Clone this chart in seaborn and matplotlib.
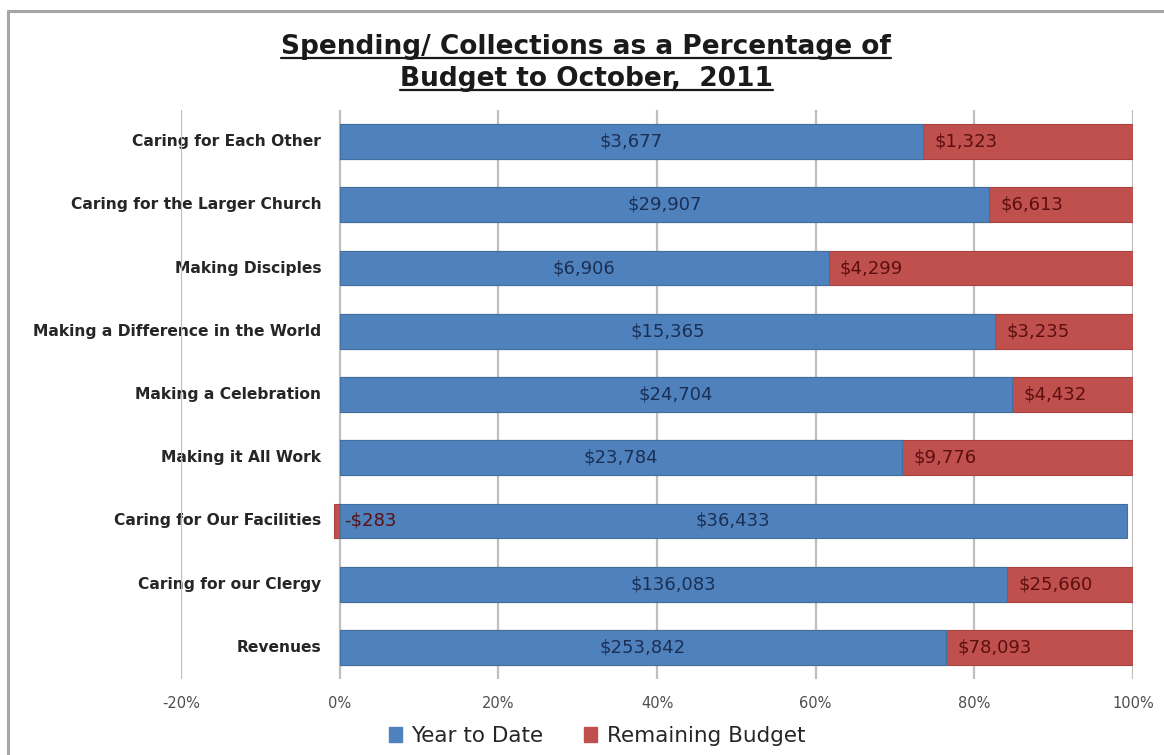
import numpy as np
import pandas as pd
import matplotlib
matplotlib.use("Agg")
import matplotlib.pyplot as plt
from matplotlib.lines import Line2D
from matplotlib.patches import Patch
import seaborn as sns

categories = [
    "Caring for Each Other",
    "Caring for the Larger Church",
    "Making Disciples",
    "Making a Difference in the World",
    "Making a Celebration",
    "Making it All Work",
    "Caring for Our Facilities",
    "Caring for our Clergy",
    "Revenues",
]
year_to_date = [3677, 29907, 6906, 15365, 24704, 23784, 36433, 136083, 253842]
remaining = [1323, 6613, 4299, 3235, 4432, 9776, -283, 25660, 78093]
x_ticks = [-0.2, 0.0, 0.2, 0.4, 0.6, 0.8, 1.0]
x_tick_labels = ["-20%", "0%", "20%", "40%", "60%", "80%", "100%"]
title_lines = ["Spending/ Collections as a Percentage of", "Budget to October,  2011"]
legend_labels = ["Year to Date", "Remaining Budget"]

BLUE = "#4F81BD"
RED = "#C0504D"

ytd = np.array(year_to_date, dtype=float)
rem = np.array(remaining, dtype=float)
total = np.abs(ytd) + np.abs(rem)
ytd_pct = ytd / total
rem_pct = rem / total
red_extent = np.where(rem >= 0, ytd_pct + rem_pct, rem_pct)

df = pd.DataFrame({"category": categories, "ytd": ytd_pct, "red": red_extent})

sns.set_theme(style="white")
plt.rcParams["font.family"] = ["DejaVu Sans"]

fig = plt.figure(figsize=(11.64, 7.55), dpi=100)
W, H = 1164, 755
ax = fig.add_axes([181 / W, 1 - 679 / H, (1133 - 181) / W, (679 - 110) / H])

sns.barplot(data=df, x="red", y="category", orient="h", color=RED, width=0.55,
            edgecolor="#A9423F", linewidth=0.8, saturation=1, ax=ax, zorder=3)
sns.barplot(data=df, x="ytd", y="category", orient="h", color=BLUE, width=0.55,
            edgecolor="#41709F", linewidth=0.8, saturation=1, ax=ax, zorder=4)

ax.set_xlim(-0.2, 1.0)
ax.set_ylim(len(categories) - 0.5, -0.5)
ax.set_xticks(x_ticks)
ax.set_xticklabels(x_tick_labels, fontsize=10.5, color="#4D4D4D")
ax.set_xlabel("")
ax.set_ylabel("")
for s in ax.spines.values():
    s.set_visible(False)
for xv in x_ticks:
    ax.axvline(xv, color="#BFBFBF", linewidth=1.6, zorder=1)
ax.tick_params(axis="x", length=0, pad=12)
ax.tick_params(axis="y", length=0, pad=-101)
for lbl in ax.get_yticklabels():
    lbl.set_fontsize(11.2)
    lbl.set_fontweight("bold")
    lbl.set_color("#262626")
    lbl.set_verticalalignment("center")

# data labels
for i in range(len(categories)):
    ax.text(ytd_pct[i] / 2, i, f"${year_to_date[i]:,.0f}", ha="center", va="center",
            fontsize=13, color="#1A2F55", zorder=6)
    if rem[i] >= 0:
        x0 = ytd_pct[i] + 0.014
        txt = f"${remaining[i]:,.0f}"
    else:
        x0 = 0.006
        txt = f"-${abs(remaining[i]):,.0f}"
    ax.text(x0, i, txt, ha="left", va="center", fontsize=13, color="#5C0F0F", zorder=6)

# title with underline
title_objs = []
for y_px, line in zip([54, 86], title_lines):
    t = fig.text(586 / W, 1 - y_px / H, line, ha="center", va="baseline",
                 fontsize=19, fontweight="bold", color="#1A1A1A")
    title_objs.append((t, y_px))

# legend
handles = [Patch(facecolor=BLUE, edgecolor=BLUE), Patch(facecolor=RED, edgecolor=RED)]
fig.legend(handles, legend_labels, loc="center", bbox_to_anchor=(597 / W, 1 - 736 / H),
           ncol=2, frameon=False, fontsize=15.5, handlelength=0.6, handleheight=0.7,
           handletextpad=0.45, columnspacing=1.9, labelcolor="#262626")

# outer frame (left and top edges visible)
fig.add_artist(Line2D([8 / W, 8 / W], [0, 1 - 11 / H], transform=fig.transFigure,
                      color="#A6A6A6", linewidth=2.2))
fig.add_artist(Line2D([8 / W, 1], [1 - 11 / H, 1 - 11 / H], transform=fig.transFigure,
                      color="#A6A6A6", linewidth=2.2))

fig.canvas.draw()
renderer = fig.canvas.get_renderer()
for t, y_px in title_objs:
    bb = t.get_window_extent(renderer)
    yl = 1 - (y_px + 4) / H
    fig.add_artist(Line2D([bb.x0 / W, bb.x1 / W], [yl, yl], transform=fig.transFigure,
                          color="#1A1A1A", linewidth=1.6))

fig.savefig("out.png", dpi=100)
